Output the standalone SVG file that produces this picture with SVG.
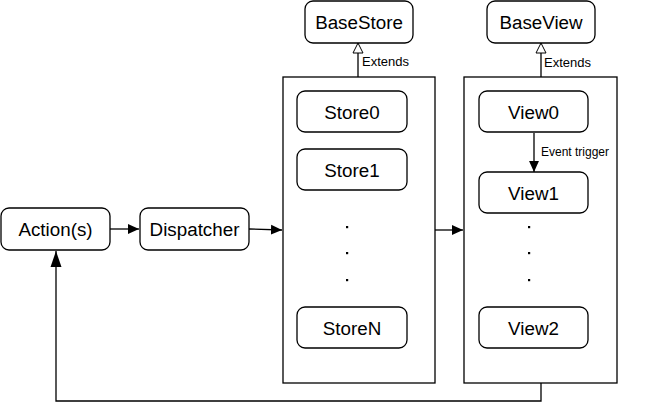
<svg xmlns="http://www.w3.org/2000/svg" width="648" height="403" viewBox="0 0 648 403">
<style>
.node{fill:#fff;stroke:#000;stroke-width:1.3}
.box{fill:#fff;stroke:#000;stroke-width:1.3}
.t{font-family:"Liberation Sans",Arial,sans-serif;font-size:18.8px;text-anchor:middle;fill:#000}
.s{font-family:"Liberation Sans",Arial,sans-serif;font-size:12px;fill:#000}
.e{font-family:"Liberation Sans",Arial,sans-serif;font-size:13px;fill:#000}
.c{fill:none;stroke:#000;stroke-width:1.3}
.dot{fill:#000}
</style>
<defs>
<marker id="ah" viewBox="0 0 10 10" refX="10" refY="5" markerWidth="11" markerHeight="11" markerUnits="userSpaceOnUse" orient="auto"><path d="M0,0.5 L10,5 L0,9.5 Z" fill="#000"/></marker>
<marker id="ahL" viewBox="0 0 16 12" refX="16" refY="6" markerWidth="16" markerHeight="12" markerUnits="userSpaceOnUse" orient="auto"><path d="M0,0.5 L16,6 L0,11.5 Z" fill="#000"/></marker>
<marker id="hol" viewBox="0 0 12 12" refX="11" refY="6" markerWidth="12" markerHeight="12" markerUnits="userSpaceOnUse" orient="auto"><path d="M1,1 L11,6 L1,11 Z" fill="#fff" stroke="#000" stroke-width="1"/></marker>
</defs>
<rect width="648" height="403" fill="#fff"/>
<g id="storeContainer"><rect class="box" x="283" y="77" width="152" height="306"/></g>
<g id="viewContainer"><rect class="box" x="464" y="77" width="153" height="306"/></g>
<g id="connectors">
<line class="c" x1="110" y1="229" x2="139" y2="229" marker-end="url(#ah)"/>
<line class="c" x1="249" y1="229" x2="282" y2="230" marker-end="url(#ah)"/>
<line class="c" x1="435" y1="230" x2="463" y2="230" marker-end="url(#ah)"/>
<line class="c" x1="358" y1="77" x2="358" y2="43" marker-end="url(#hol)"/>
<line class="c" x1="541" y1="77" x2="541" y2="43" marker-end="url(#hol)"/>
<line class="c" x1="534" y1="133" x2="534" y2="172" marker-end="url(#ah)"/>
<polyline class="c" points="541,383 541,401 56,401 56,251" marker-end="url(#ahL)"/>
</g>
<g id="actions"><rect class="node" x="1" y="208" width="109" height="42" rx="8"/><text class="t" x="55.5" y="236">Action(s)</text></g>
<g id="dispatcher"><rect class="node" x="140" y="208" width="109" height="42" rx="8"/><text class="t" x="194.5" y="236">Dispatcher</text></g>
<g id="baseStore"><rect class="node" x="305" y="1" width="108" height="42" rx="8"/><text class="t" x="359" y="28.5">BaseStore</text></g>
<g id="baseView"><rect class="node" x="487" y="1" width="108" height="42" rx="8"/><text class="t" x="541" y="28.5">BaseView</text></g>
<text class="e" x="362" y="66">Extends</text>
<text class="e" x="544" y="67">Extends</text>
<text class="s" x="541" y="156">Event trigger</text>
<g id="store0"><rect class="node" x="297" y="91" width="110" height="41" rx="8"/><text class="t" x="352" y="118.5">Store0</text></g>
<g id="store1"><rect class="node" x="297" y="149" width="110" height="41" rx="8"/><text class="t" x="352" y="176.5">Store1</text></g>
<g id="storeN"><rect class="node" x="297" y="307" width="110" height="41" rx="8"/><text class="t" x="352" y="334.5">StoreN</text></g>
<g id="view0"><rect class="node" x="479" y="91" width="109" height="41" rx="8"/><text class="t" x="533.5" y="118.5">View0</text></g>
<g id="view1"><rect class="node" x="479" y="172" width="109" height="41" rx="8"/><text class="t" x="533.5" y="199.5">View1</text></g>
<g id="view2"><rect class="node" x="479" y="307" width="109" height="41" rx="8"/><text class="t" x="533.5" y="334.5">View2</text></g>
<g id="storeDots"><rect class="dot" x="346" y="226" width="2.2" height="2.2"/><rect class="dot" x="346" y="252" width="2.2" height="2.2"/><rect class="dot" x="346" y="279" width="2.2" height="2.2"/></g>
<g id="viewDots"><rect class="dot" x="528" y="226" width="2.2" height="2.2"/><rect class="dot" x="528" y="252" width="2.2" height="2.2"/><rect class="dot" x="528" y="279" width="2.2" height="2.2"/></g>
</svg>
